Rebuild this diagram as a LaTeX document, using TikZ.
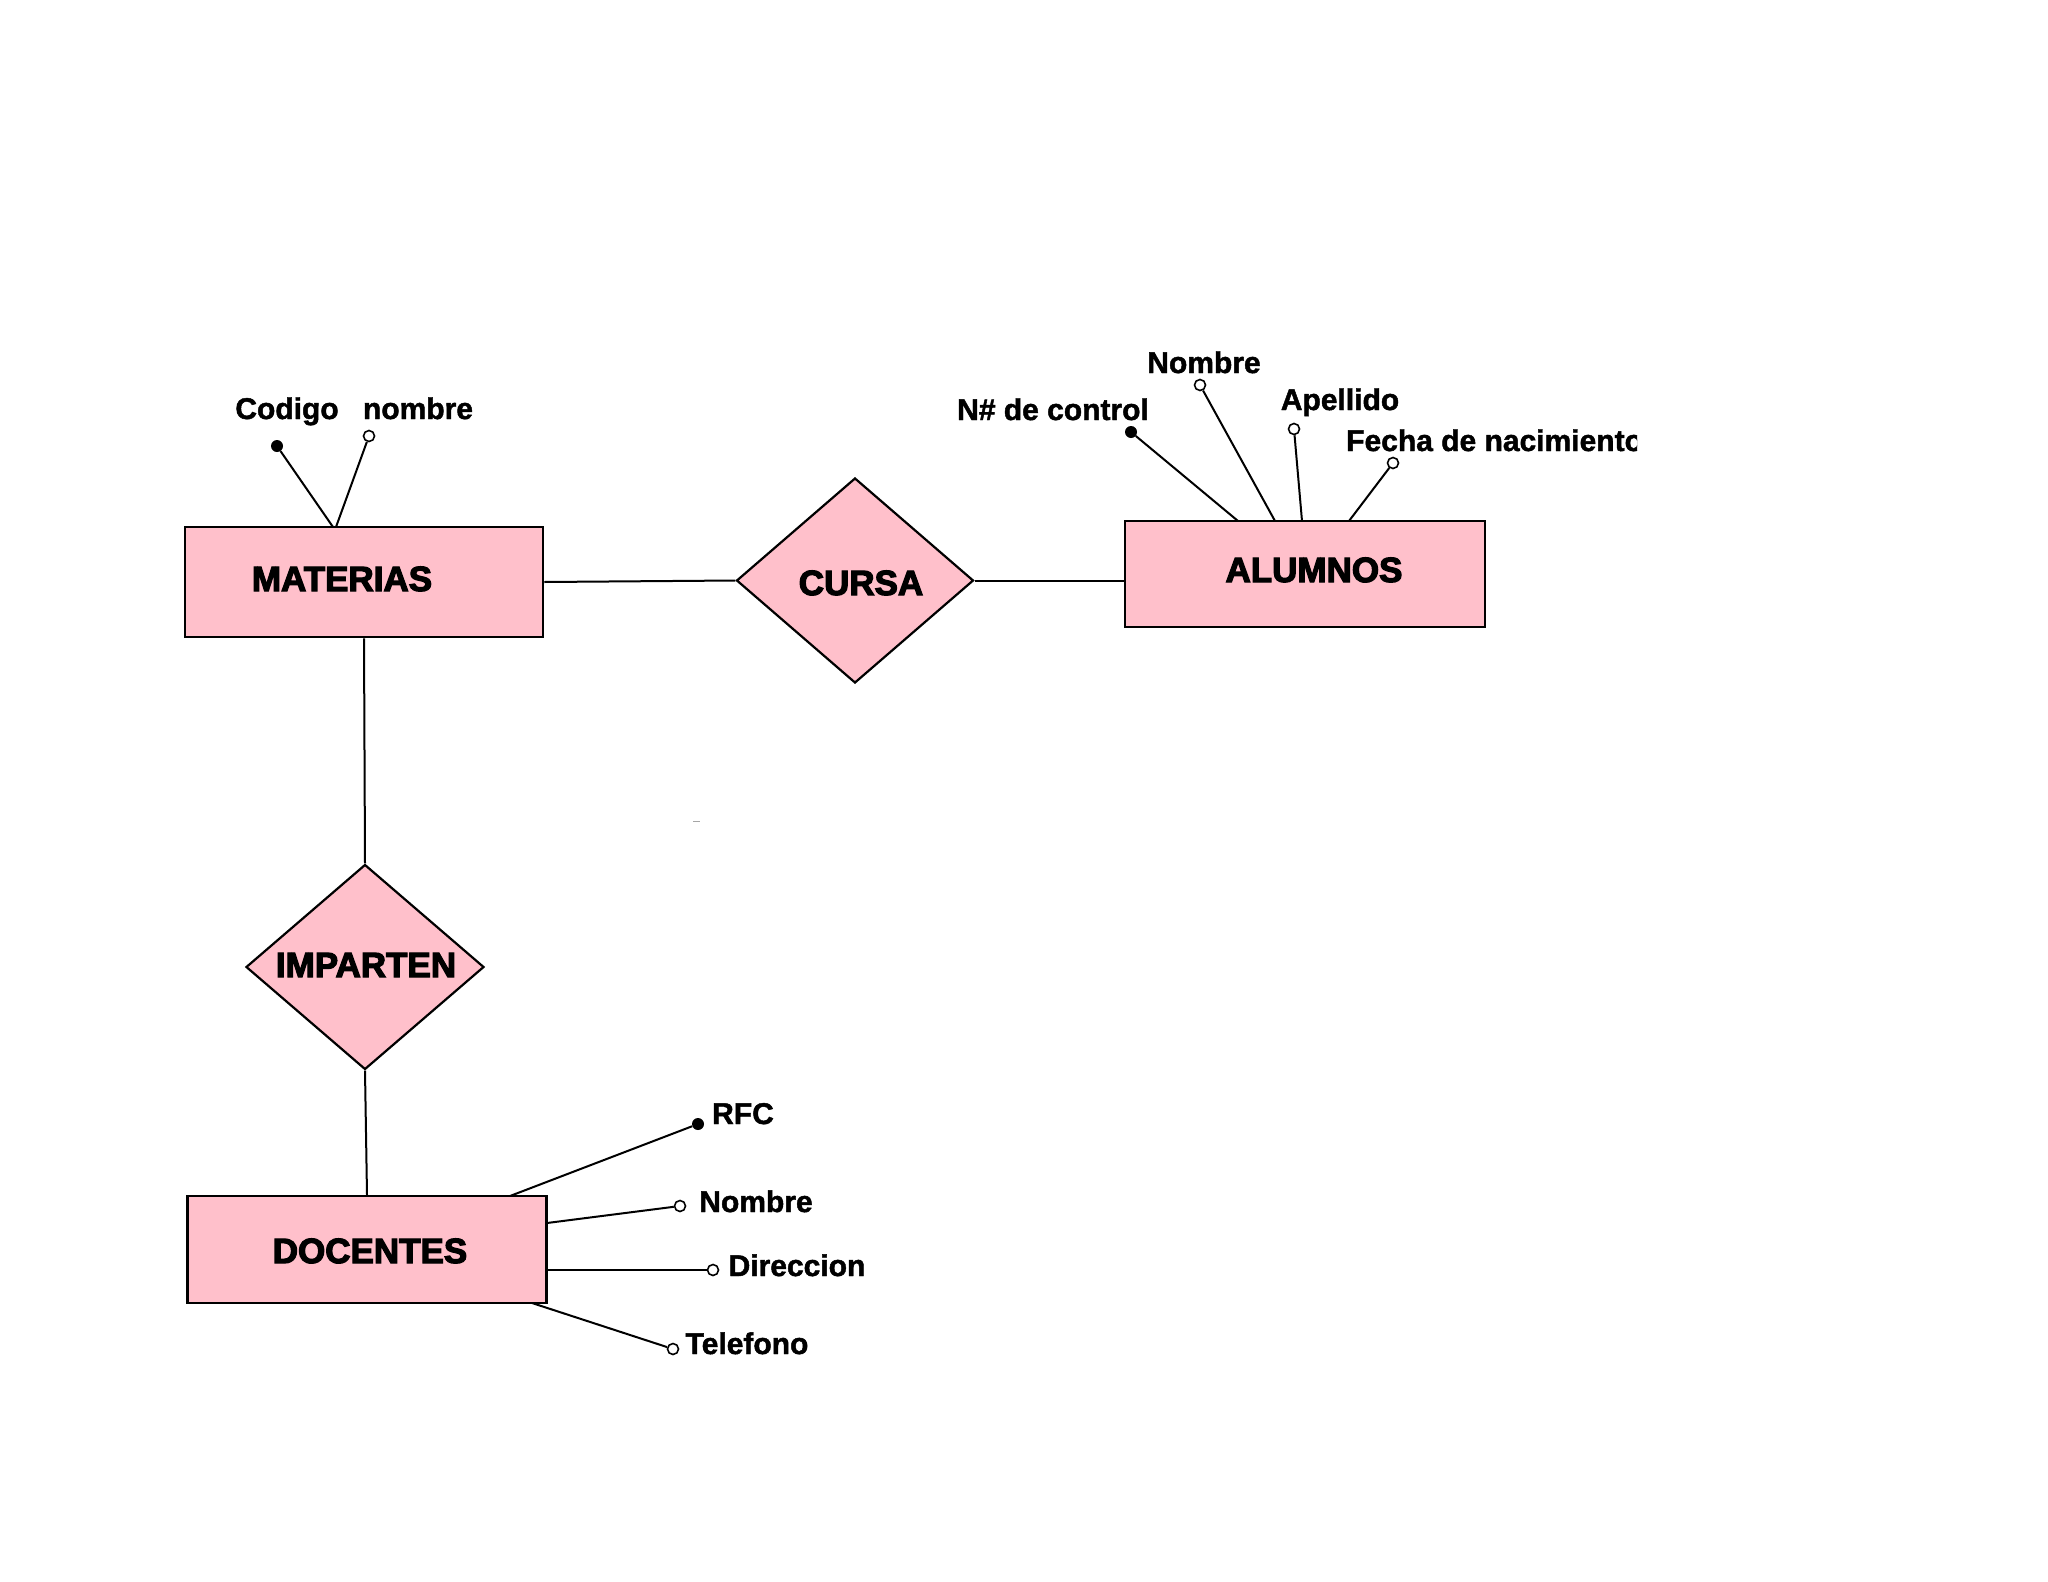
\documentclass[tikz,border=0pt]{standalone}
\usepackage{fontspec}
\setmainfont{Liberation Sans}
\newfontfamily\entfont{Liberation Sans}[BoldFeatures={FakeBold=3.5}]
\newfontfamily\attfont{Liberation Sans}[BoldFeatures={FakeBold=1.5}]
\usetikzlibrary{shapes.geometric}
\definecolor{erpink}{RGB}{255,192,203}
\tikzset{
  entbox/.style={draw=black, fill=erpink, line width=2.5pt, inner sep=0pt},
  relbox/.style={diamond, draw=black, fill=erpink, line width=2.2pt, inner sep=0pt},
  enttext/.style={font=\entfont\bfseries\fontsize{35}{38}\selectfont, anchor=base, inner sep=0pt},
  atttext/.style={font=\attfont\bfseries\fontsize{30}{34}\selectfont, anchor=base, inner sep=0pt},
  keydot/.style={circle, fill=black, minimum size=12pt, inner sep=0pt},
  attdot/.style={circle, draw=black, fill=white, line width=1.6pt, minimum size=11pt, inner sep=0pt},
  conn/.style={line width=2pt},
}
\begin{document}
\begin{tikzpicture}[x=1pt, y=-1pt]
\useasboundingbox[fill=white] (0,0) rectangle (2048,1582);

% entities
\node[entbox, minimum width=358pt, minimum height=110pt] (mat) at (364,582) {};
\node[entbox, minimum width=360pt, minimum height=106pt] (alu) at (1305,574) {};
\node[entbox, minimum width=359pt, minimum height=107pt] (doc) at (367,1249.5) {};
% relationships
\node[relbox, minimum width=237pt, minimum height=205pt] (cursa) at (855,580.5) {};
\node[relbox, minimum width=238pt, minimum height=205pt] (imp) at (365,967) {};

% entity / relationship texts
\node[enttext] (tmat) at (342,591) {MATERIAS};
\node[enttext] (talu) at (1314,582) {ALUMNOS};
\node[enttext] (tdoc) at (370,1263) {DOCENTES};
\node[enttext] (tcur) at (861,595) {CURSA};
\node[enttext] (timp) at (366,977) {IMPARTEN};

% relationship connectors
\draw[conn] (mat.east) -- (cursa.west);
\draw[conn] (cursa.east) -- (cursa.east -| alu.west);
\draw[conn] (mat.south) -- (imp.north);
\draw[conn] (imp.south) -- (doc.north);

% MATERIAS attributes
\coordinate (m1) at (333,527);
\coordinate (m2) at (336,527);
\node[keydot] (mcod) at (277,446) {};
\node[attdot] (mnom) at (369,436) {};
\draw[conn] (mcod) -- (m1);
\draw[conn] (mnom) -- (m2);
\node[atttext] (lcod) at (287,419) {Codigo};
\node[atttext] (lnom) at (418,419) {nombre};

% ALUMNOS attributes
\coordinate (a1) at (1238,521);
\coordinate (a2) at (1275,521);
\coordinate (a3) at (1302,521);
\coordinate (a4) at (1349,521);
\node[keydot] (actl) at (1131,432) {};
\node[attdot] (anom) at (1200,385) {};
\node[attdot] (aape) at (1294,429) {};
\node[attdot] (afec) at (1393,463) {};
\draw[conn] (actl) -- (a1);
\draw[conn] (anom) -- (a2);
\draw[conn] (aape) -- (a3);
\draw[conn] (afec) -- (a4);
\node[atttext] (lctl) at (1053,420) {N\# de control};
\node[atttext] (lanom) at (1204,373) {Nombre};
\node[atttext] (lape) at (1340,410) {Apellido};
\begin{scope}
\clip (0,0) rectangle (1637,1582);
\node[atttext, anchor=base west] (lfec) at (1346,451) {Fecha de nacimiento};
\end{scope}

% DOCENTES attributes
\coordinate (d1) at (510,1196);
\coordinate (d2) at (547,1223);
\coordinate (d3) at (547,1270);
\coordinate (d4) at (532,1303);
\node[keydot] (drfc) at (698,1124) {};
\node[attdot] (dnom) at (680,1206) {};
\node[attdot] (ddir) at (713,1270) {};
\node[attdot] (dtel) at (673,1349) {};
\draw[conn] (d1) -- (drfc);
\draw[conn] (d2) -- (dnom);
\draw[conn] (d3) -- (ddir);
\draw[conn] (d4) -- (dtel);
\node[atttext] (lrfc) at (743,1124) {RFC};
\node[atttext] (ldnom) at (756,1212) {Nombre};
\node[atttext] (ldir) at (797,1276) {Direccion};
\node[atttext] (ltel) at (747,1354) {Telefono};

% small stray mark
\draw[gray!70, line width=1pt] (693,821) -- (700,821);
\end{tikzpicture}
\end{document}
